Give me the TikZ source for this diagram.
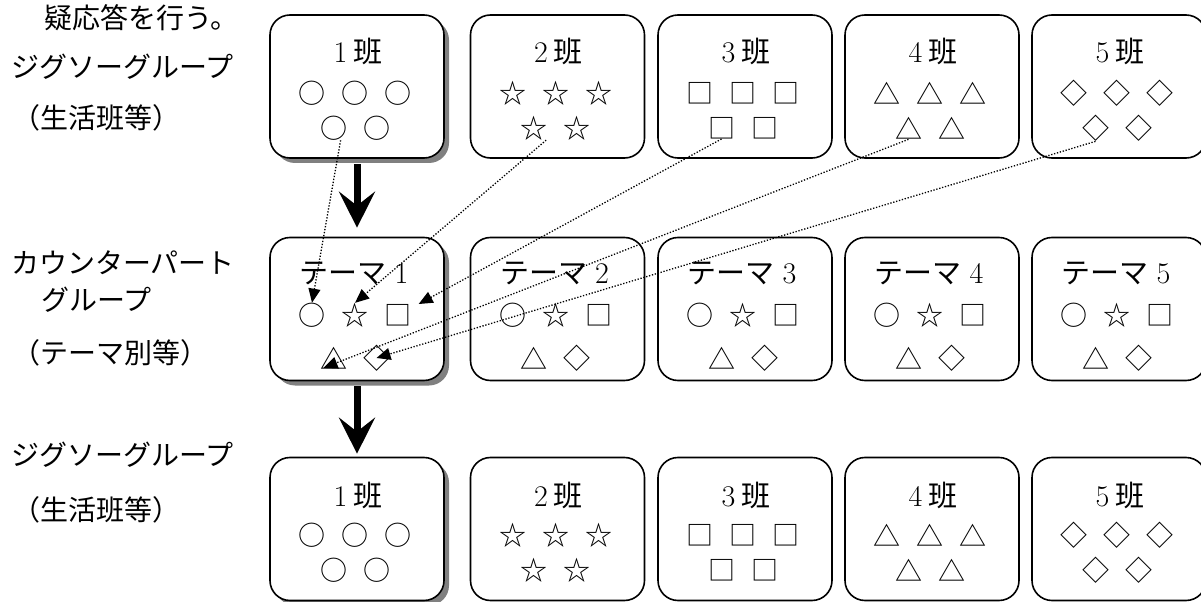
\documentclass[tikz,border=0pt]{standalone}
\usepackage{fontspec}
\newfontfamily\jpfont{Noto Sans CJK JP}
\usetikzlibrary{arrows.meta,shadows}
% digits of the group numbers in the serif text face
\newcommand\numsz[1]{{\normalfont\fontsize{30bp}{30bp}\selectfont #1}}
\begin{document}
\begin{tikzpicture}[x=1bp,y=-1bp,
  groupbox/.style={draw, line width=1.6bp, rounded corners=20bp, fill=white,
    minimum width=174bp, minimum height=143bp, inner sep=0pt},
  shadowed/.style={drop shadow={shadow xshift=5bp, shadow yshift=-5bp,
    fill=black!50, opacity=1}},
  boxtitle/.style={font=\jpfont\fontsize{29bp}{29bp}\selectfont, inner sep=0pt, anchor=base},
  sym/.style={font=\jpfont\fontsize{27bp}{27bp}\selectfont, inner sep=0pt},
  sidelabel/.style={font=\jpfont\fontsize{28bp}{28bp}\selectfont, inner sep=0pt, anchor=base west},
  stagearrow/.style={line width=7bp, -{Stealth[length=36bp,width=36bp,inset=14bp]}},
  dotlink/.style={line width=1.3bp, dash pattern=on 1.3bp off 1.7bp,
    -{Triangle[length=14bp,width=12bp]}},
]
\useasboundingbox (0,0) rectangle (1201,602);
\clip (0,0) rectangle (1201,602);

% ---- row labels on the left
\node[sidelabel] (lead)  at (44,28.6)  {疑応答を行う。};
\node[sidelabel] (jig1)  at (11,77.6)  {ジグソーグループ};
\node[sidelabel] (home1) at (12,128.6) {（生活班等）};
\node[sidelabel] (cp1)   at (11,273.6) {カウンターパート};
\node[sidelabel] (cp2)   at (41,310.6) {グループ};
\node[sidelabel] (cp3)   at (12,363.6) {（テーマ別等）};
\node[sidelabel] (jig2)  at (11,465.6) {ジグソーグループ};
\node[sidelabel] (home2) at (12,520.6) {（生活班等）};

% ---- group boxes (first column carries a shadow)
\node[groupbox,shadowed] (g1) at (357,86.5) {};
\node[groupbox] (g2) at (557.5,86.5) {};
\node[groupbox] (g3) at (745,86.5) {};
\node[groupbox] (g4) at (932,86.5) {};
\node[groupbox] (g5) at (1119,86.5) {};

\node[groupbox,shadowed] (t1) at (357,309) {};
\node[groupbox] (t2) at (557.5,309) {};
\node[groupbox] (t3) at (745,309) {};
\node[groupbox] (t4) at (932,309) {};
\node[groupbox] (t5) at (1119,309) {};

\node[groupbox,shadowed] (h1) at (357,529) {};
\node[groupbox] (h2) at (557.5,529) {};
\node[groupbox] (h3) at (745,529) {};
\node[groupbox] (h4) at (932,529) {};
\node[groupbox] (h5) at (1119,529) {};

% ---- home groups: title and five members of one mark
\foreach \n/\cx/\g in {1/357/○,2/557.5/☆,3/745/□,4/932/△,5/1119/◇}{
  \node[boxtitle] (g\n-t) at (\cx+1,63) {\numsz{\n}\hspace{6bp}班};
  \node[sym] (g\n-s1) at (\cx-45,93) {\g};
  \node[sym] (g\n-s2) at (\cx-2,93) {\g};
  \node[sym] (g\n-s3) at (\cx+41,93) {\g};
  \node[sym] (g\n-s4) at (\cx-23.5,128) {\g};
  \node[sym] (g\n-s5) at (\cx+19.5,128) {\g};
  \node[boxtitle] (h\n-t) at (\cx+1,506) {\numsz{\n}\hspace{6bp}班};
  \node[sym] (h\n-s1) at (\cx-45,535) {\g};
  \node[sym] (h\n-s2) at (\cx-2,535) {\g};
  \node[sym] (h\n-s3) at (\cx+41,535) {\g};
  \node[sym] (h\n-s4) at (\cx-23.5,570) {\g};
  \node[sym] (h\n-s5) at (\cx+19.5,570) {\g};
}

% ---- theme groups: one member from every home group
\foreach \n/\cx in {1/357,2/557.5,3/745,4/932,5/1119}{
  \node[boxtitle] (t\n-t) at (\cx-3,284) {テーマ\hspace{8bp}\numsz{\n}};
  \node[sym] (t\n-s1) at (\cx-45,315) {○};
  \node[sym] (t\n-s2) at (\cx-2,315) {☆};
  \node[sym] (t\n-s3) at (\cx+41,315) {□};
  \node[sym] (t\n-s4) at (\cx-23.5,358) {△};
  \node[sym] (t\n-s5) at (\cx+19.5,358) {◇};
}

% ---- stage arrows
\draw[stagearrow, shorten <=5bp, shorten >=9bp] (g1.south) -- (t1.north);
\draw[stagearrow, shorten <=5bp, shorten >=3bp] (t1.south) -- (h1.north);

% ---- members moving into theme group 1
\draw[dotlink] (g1-s4.-60) -- (t1-s1.north);
\draw[dotlink] (g2-s4.-45) -- (t1-s2.north);
\draw[dotlink] (g3-s4.south) -- ([xshift=7bp]t1-s3.north east);
\draw[dotlink, shorten >=4bp] (g4-s4.south) -- (t1-s4.south west);
\draw[dotlink] (g5-s4.south) -- (t1-s5.center);
\end{tikzpicture}
\end{document}
